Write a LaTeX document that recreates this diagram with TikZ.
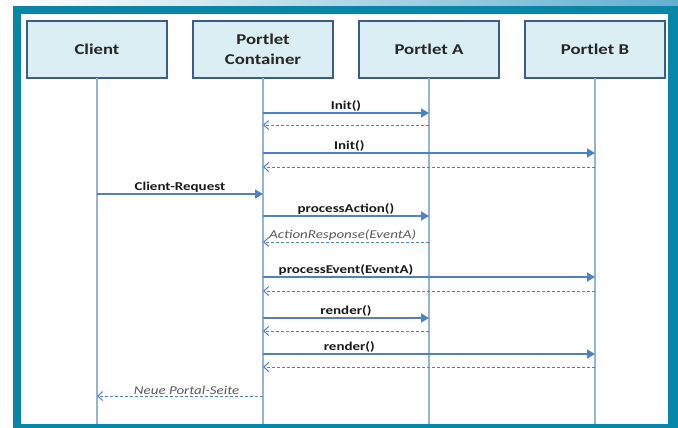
\documentclass[tikz,border=0pt]{standalone}
\usepackage{fontspec}
\setmainfont{Carlito}[FakeStretch=1.25]
\usetikzlibrary{positioning, arrows.meta}
\definecolor{framecolor}{RGB}{8, 134, 168}
\definecolor{stripcolor}{RGB}{100, 175, 208}
\definecolor{boxfill}{RGB}{219, 238, 244}
\definecolor{boxline}{RGB}{56, 93, 138}
\definecolor{lifecolor}{RGB}{149, 179, 215}
\definecolor{msgcolor}{RGB}{79, 129, 189}
\definecolor{replytext}{RGB}{89, 89, 89}

\begin{document}
\begin{tikzpicture}[
    x=1pt, y=-1pt,
    node distance=26pt,
    actor/.style={rectangle, draw=boxline, fill=boxfill, line width=1.8pt, minimum width=140pt, minimum height=57pt, outer sep=0pt, align=center, font=\fontsize{15}{20}\selectfont\bfseries, text=black!85},
    lifeline/.style={draw=lifecolor, line width=1.5pt},
    call/.style={draw=msgcolor, line width=1.4pt, -{Triangle[length=8pt, width=9pt]}},
    reply/.style={draw=msgcolor, line width=1pt, dash pattern=on 3pt off 2pt, -{Straight Barb[length=5pt, width=9pt]}},
    lbl/.style={above, inner sep=1pt, font=\fontsize{12}{14}\selectfont\bfseries, text=black!90},
    replylbl/.style={above, inner sep=1pt, font=\fontsize{12}{14}\selectfont\itshape, text=replytext},
]
\useasboundingbox (0,0) rectangle (678,428);

% ============ Rahmen ============
\fill[framecolor] (13,6) rectangle (678,428);
\fill[white] (21,14) rectangle (668,424);
\shade[left color=white, right color=stripcolor] (13,0) rectangle (678,6);

% ============ Teilnehmer ============
\node[actor] (client) at (97,49.5) {Client};
\node[actor, right=of client] (container) {Portlet\\Container};
\node[actor, right=of container] (portletA) {Portlet A};
\node[actor, right=of portletA] (portletB) {Portlet B};

% ============ Lebenslinien ============
\coordinate (bottom) at (0,424);
\draw[lifeline] (client) -- (client |- bottom);
\draw[lifeline] (container) -- (container |- bottom);
\draw[lifeline] (portletA) -- (portletA |- bottom);
\draw[lifeline] (portletB) -- (portletB |- bottom);

% ============ Zeilen ============
\coordinate (initA) at (0,113);
\coordinate (initAret) at (0,125);
\coordinate (initB) at (0,153);
\coordinate (initBret) at (0,167);
\coordinate (request) at (0,194);
\coordinate (action) at (0,216);
\coordinate (actionret) at (0,242);
\coordinate (event) at (0,277);
\coordinate (eventret) at (0,291);
\coordinate (renderA) at (0,318);
\coordinate (renderAret) at (0,331);
\coordinate (renderB) at (0,354);
\coordinate (renderBret) at (0,367);
\coordinate (page) at (0,396);

% ============ Nachrichten ============
% Init
\draw[call] (container |- initA) -- (portletA |- initA) node[lbl, midway] {Init()};
\draw[reply] (portletA |- initAret) -- (container |- initAret);
\draw[call] (container |- initB) -- (portletB |- initB) node[lbl, pos=0.26] {Init()};
\draw[reply] (portletB |- initBret) -- (container |- initBret);

% Request und Action
\draw[call] (client |- request) -- (container |- request) node[lbl, midway] {Client-Request};
\draw[call] (container |- action) -- (portletA |- action) node[lbl, midway] {processAction()};
\draw[reply] (portletA |- actionret) -- (container |- actionret) node[replylbl, pos=0.52] {ActionResponse(EventA)};

% Event
\draw[call] (container |- event) -- (portletB |- event) node[lbl, pos=0.25] {processEvent(EventA)};
\draw[reply] (portletB |- eventret) -- (container |- eventret);

% Render
\draw[call] (container |- renderA) -- (portletA |- renderA) node[lbl, midway] {render()};
\draw[reply] (portletA |- renderAret) -- (container |- renderAret);
\draw[call] (container |- renderB) -- (portletB |- renderB) node[lbl, pos=0.26] {render()};
\draw[reply] (portletB |- renderBret) -- (container |- renderBret);

% Antwort an Client
\draw[reply] (container |- page) -- (client |- page) node[replylbl, pos=0.46] {Neue Portal-Seite};

\end{tikzpicture}
\end{document}
